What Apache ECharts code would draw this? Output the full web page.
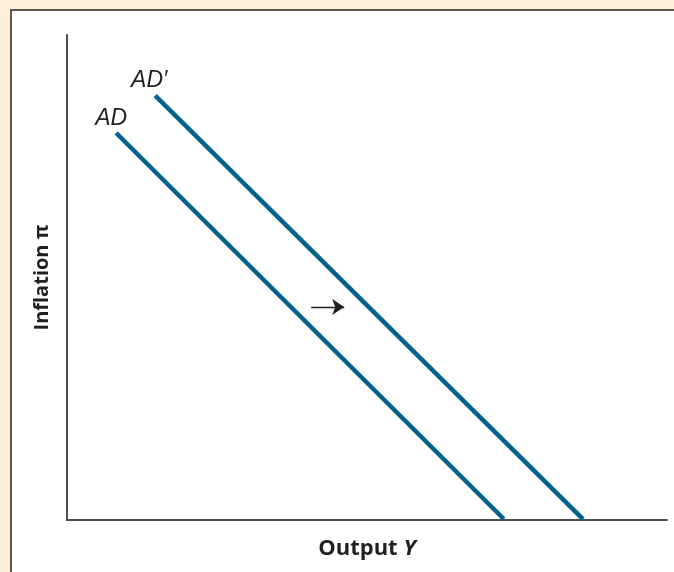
<!DOCTYPE html>
<html><head><meta charset="utf-8">
<script src="https://cdn.jsdelivr.net/npm/echarts@6/dist/echarts.min.js"></script>
<style>html,body{margin:0;padding:0;background:#fdefd7}#c{width:674px;height:572px}</style>
</head><body><div id="c"></div>
<script>
// Data (x: output, y: inflation; arbitrary units 0-10)
const adCurve = [[0.82, 7.98], [7.28, 0.02]];
const adPrimeCurve = [[1.47, 8.75], [8.6, 0.02]];
const shiftArrow = [[4.07, 4.39], [4.62, 4.39]];
const curveNames = ['AD', "AD\u2032"];
const xAxisTitle = 'Output';
const xAxisVar = 'Y';
const yAxisTitle = 'Inflation \u03C0';

const blue = '#03618c';
const titleFont = { fontFamily: 'Open Sans', fontWeight: 'bold', fontSize: 22, color: '#231f20' };
const labelStyle = { fontFamily: 'Liberation Sans', fontStyle: 'italic', fontSize: 23, color: '#231f20' };
const chart = echarts.init(document.getElementById('c'));
chart.setOption({
  backgroundColor: '#fdefd7',
  animation: false,
  graphic: [{
    type: 'rect', z: -10,
    shape: { x: 11, y: 10, width: 700, height: 600 },
    style: { fill: '#ffffff', stroke: '#5e554c', lineWidth: 2 }
  }],
  grid: { left: 67, top: 35, right: 7, bottom: 52 },
  xAxis: {
    type: 'value', min: 0, max: 10,
    axisLine: { show: true, lineStyle: { color: '#4d4d4d', width: 2 } },
    axisTick: { show: false }, axisLabel: { show: false }, splitLine: { show: false },
    name: xAxisTitle + ' {i|' + xAxisVar + '}',
    nameLocation: 'middle', nameGap: 18,
    nameTextStyle: Object.assign({}, titleFont, {
      rich: { i: Object.assign({}, titleFont, { fontStyle: 'italic' }) }
    })
  },
  yAxis: {
    type: 'value', min: 0, max: 10,
    axisLine: { show: true, lineStyle: { color: '#4d4d4d', width: 2 } },
    axisTick: { show: false }, axisLabel: { show: false }, splitLine: { show: false },
    name: yAxisTitle, nameLocation: 'middle', nameGap: 15,
    nameTextStyle: Object.assign({}, titleFont, { fontSize: 20 })
  },
  series: [
    {
      type: 'line', showSymbol: true, symbol: 'circle', symbolSize: 0.1,
      lineStyle: { color: blue, width: 4.5, cap: 'butt' },
      itemStyle: { color: blue },
      data: [
        { value: adCurve[0], label: Object.assign({ show: true, formatter: curveNames[0], position: 'top', distance: 3, offset: [-5, 0] }, labelStyle) },
        { value: adCurve[1] }
      ]
    },
    {
      type: 'line', showSymbol: true, symbol: 'circle', symbolSize: 0.1,
      lineStyle: { color: blue, width: 4.5, cap: 'butt' },
      itemStyle: { color: blue },
      data: [
        { value: adPrimeCurve[0], label: Object.assign({ show: true, formatter: curveNames[1], position: 'top', distance: 3, offset: [-6, 0] }, labelStyle) },
        { value: adPrimeCurve[1] }
      ]
    },
    {
      type: 'lines', coordinateSystem: 'cartesian2d', polyline: false,
      symbol: ['none', 'arrow'], symbolSize: [9, 12],
      lineStyle: { color: '#231f20', width: 1.3, opacity: 1 },
      data: [{ coords: shiftArrow }]
    }
  ]
});
</script></body></html>
